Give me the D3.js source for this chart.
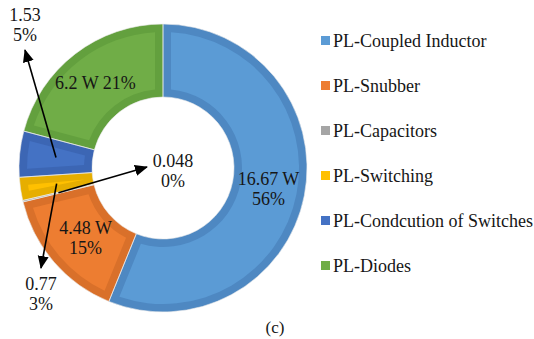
<!DOCTYPE html>
<html>
<head>
<meta charset="utf-8">
<script src="https://cdn.jsdelivr.net/npm/d3@7"></script>
<style>
  html, body { margin: 0; padding: 0; background: #fff; }
  svg { display: block; }
</style>
</head>
<body>
<svg id="chart" width="534" height="339"></svg>
<script>
// Power-loss breakdown (W)
const categories = [
  "PL-Coupled Inductor",
  "PL-Snubber",
  "PL-Capacitors",
  "PL-Switching",
  "PL-Condcution of Switches",
  "PL-Diodes"
];
const lossValues = [16.67, 4.48, 0.048, 0.77, 1.53, 6.2];
const valueLabels = ["16.67 W", "4.48 W", "0.048", "0.77", "1.53", "6.2 W"];
const percentLabels = ["56%", "15%", "0%", "3%", "5%", "21%"];
const fillColors = ["#5B9BD5", "#ED7D31", "#A5A5A5", "#FFC000", "#4472C4", "#70AD47"];
const edgeColors = ["#4E88C2", "#D9702A", "#939393", "#E6AE00", "#3C66B4", "#63A03E"];

const serif = "'Liberation Serif', 'Times New Roman', Tinos, serif";
const ink = "#161616";
const svg = d3.select("#chart");
const cx = 163, cy = 168;
const rOuter = 144, rInner = 71, band = 8;

const g = svg.append("g").attr("transform", `translate(${cx},${cy})`);

const pie = d3.pie().sort(null).value(d => d.value);
const data = pie(categories.map((c, i) => ({ name: c, value: lossValues[i], i })));

const arcOuter = d3.arc().innerRadius(rInner).outerRadius(rOuter);
const arcInset = d3.arc()
  .innerRadius(rInner + band).outerRadius(rOuter - band)
  .padRadius(100).padAngle(2 * band / 100);

// darker rim for each slice
g.selectAll("path.rim").data(data).join("path")
  .attr("class", "rim")
  .attr("d", arcOuter)
  .attr("fill", d => edgeColors[d.data.i]);

// lighter inset face
g.selectAll("path.face").data(data).join("path")
  .attr("class", "face")
  .attr("d", arcInset)
  .attr("fill", d => fillColors[d.data.i]);

// thin separators between slices
g.selectAll("path.sep").data(data).join("path")
  .attr("class", "sep")
  .attr("d", arcOuter)
  .attr("fill", "none")
  .attr("stroke", "rgba(235,235,235,0.75)")
  .attr("stroke-width", 0.8);

// labels inside the larger slices
const inside = [0, 1, 5];
const fs = 18;
inside.forEach(k => {
  const [x, y] = arcOuter.centroid(data[k]);
  if (k === 5) {
    g.append("text").attr("x", x - 2).attr("y", y + 6)
      .attr("text-anchor", "middle").attr("font-size", fs).attr("fill", ink)
      .style("font-family", serif)
      .text(valueLabels[k] + " " + percentLabels[k]);
  } else {
    const dx = k === 1 ? 4 : 0;
    const t = g.append("text").attr("text-anchor", "middle")
      .attr("font-size", fs).attr("fill", ink).style("font-family", serif);
    t.append("tspan").attr("x", x + dx).attr("y", y - 4).text(valueLabels[k]);
    t.append("tspan").attr("x", x + dx).attr("y", y + 16).text(percentLabels[k]);
  }
});

// call-out labels for the small slices, with arrows from the slice centroid
svg.append("defs").append("marker")
  .attr("id", "head")
  .attr("markerUnits", "userSpaceOnUse")
  .attr("viewBox", "0 -6 13 12")
  .attr("refX", 12).attr("refY", 0)
  .attr("markerWidth", 13).attr("markerHeight", 12)
  .attr("orient", "auto")
  .append("path").attr("d", "M0,-5.5L13,0L0,5.5Z").attr("fill", "#000");

const callouts = [
  { k: 2, tip: [147, 167], label: [173, 167] },
  { k: 3, tip: [41, 268], label: [41, 290] },
  { k: 4, tip: [25, 50], label: [25, 21] }
];
callouts.forEach(c => {
  const [x, y] = arcOuter.centroid(data[c.k]);
  svg.append("line")
    .attr("x1", cx + x).attr("y1", cy + y)
    .attr("x2", c.tip[0]).attr("y2", c.tip[1])
    .attr("stroke", "#000").attr("stroke-width", 1.6)
    .attr("marker-end", "url(#head)");
  const t = svg.append("text").attr("text-anchor", "middle")
    .attr("font-size", fs).attr("fill", ink).style("font-family", serif);
  t.append("tspan").attr("x", c.label[0]).attr("y", c.label[1]).text(valueLabels[c.k]);
  t.append("tspan").attr("x", c.label[0]).attr("y", c.label[1] + 20).text(percentLabels[c.k]);
});

// legend
const legend = svg.append("g").attr("transform", "translate(321,36)");
const rows = legend.selectAll("g").data(categories).join("g")
  .attr("transform", (d, i) => `translate(0,${i * 45})`);
rows.append("rect").attr("width", 9).attr("height", 9)
  .attr("fill", (d, i) => fillColors[i]);
rows.append("text").attr("x", 12).attr("y", 11)
  .attr("font-size", 18).attr("fill", ink).style("font-family", serif)
  .text(d => d);

svg.append("text").attr("x", 275).attr("y", 333)
  .attr("text-anchor", "middle").attr("font-size", 17).attr("fill", ink)
  .style("font-family", serif)
  .text("(c)");
</script>
</body>
</html>
